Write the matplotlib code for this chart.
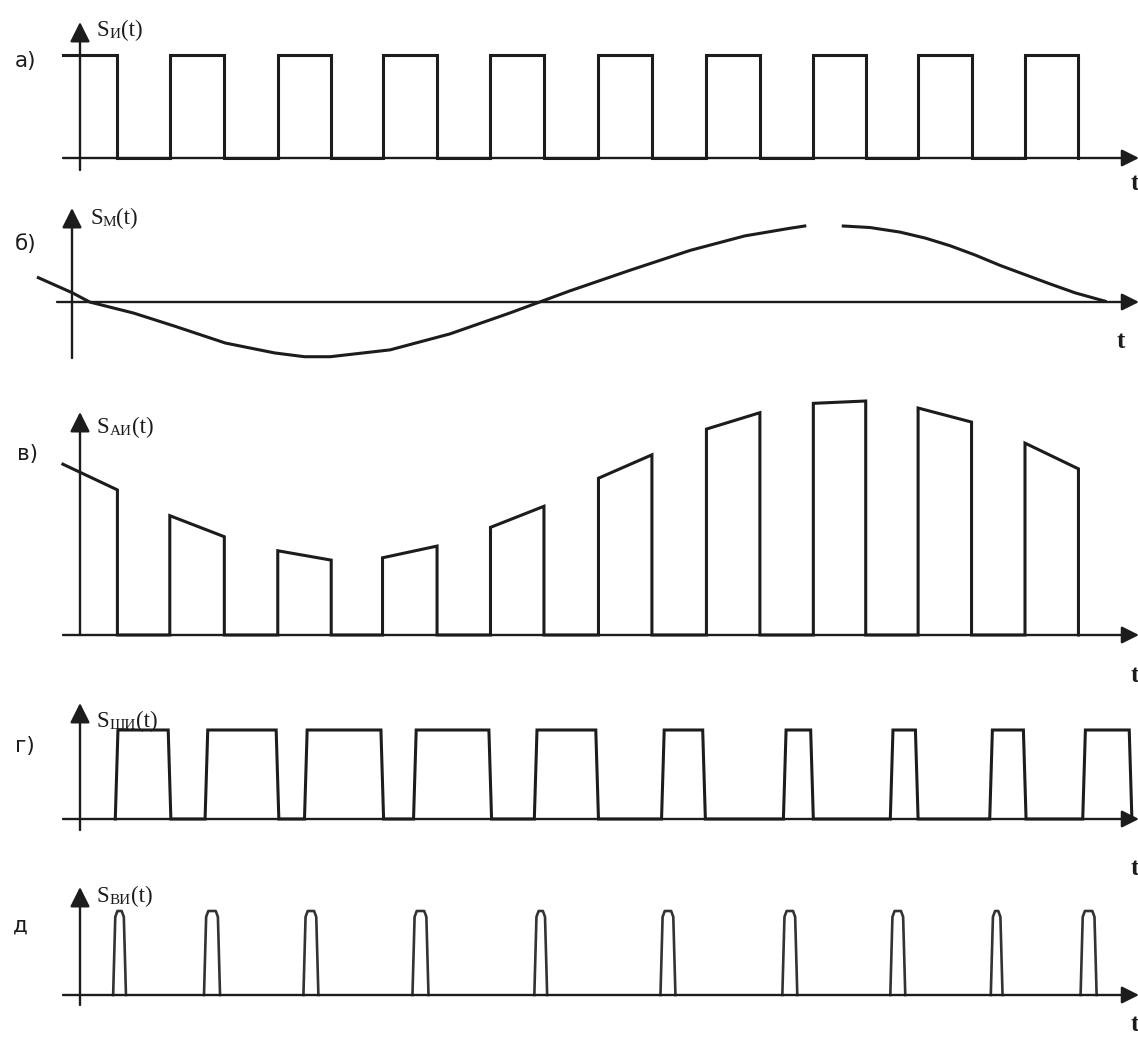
import numpy as np
import matplotlib.pyplot as plt

# ---------------- data (time in carrier periods, t=0 at the vertical axis) ----------------
# а) carrier pulse train, в) amplitude-modulated pulses share these edges
pulse_start = [-0.16, 0.84, 1.85, 2.83, 3.84, 4.85, 5.86, 6.86, 7.84, 8.84]
pulse_end = [0.35, 1.35, 2.35, 3.34, 4.34, 5.35, 6.36, 7.35, 8.34, 9.34]

# б) modulating signal, read point by point (nan = gap in the drawn curve)
sine_t = [-0.39, -0.07, 0.09, 0.50, 0.89, 1.36, 1.82, 2.10, 2.34, 2.90, 3.46,
          4.02, 4.30, 4.58, 5.15, 5.71, 6.22, 6.64, 6.78, np.nan,
          7.14, 7.39, 7.67, 7.91, 8.14, 8.37, 8.61, 8.84, 9.07, 9.31, 9.59]
sine_v = [0.32, 0.12, 0.0, -0.145, -0.32, -0.54, -0.67, -0.72, -0.72, -0.63, -0.42,
          -0.145, 0.0, 0.145, 0.42, 0.68, 0.87, 0.97, 1.0, np.nan,
          1.0, 0.98, 0.92, 0.84, 0.74, 0.62, 0.48, 0.36, 0.24, 0.12, 0.01]

# в) pulse top heights at the leading / trailing edge
am_top_start = [0.73, 0.51, 0.36, 0.33, 0.46, 0.67, 0.88, 0.99, 0.97, 0.82]
am_top_end = [0.62, 0.42, 0.32, 0.38, 0.55, 0.77, 0.95, 1.00, 0.91, 0.71]

# г) pulse-width modulation edges
pwm_rise = [0.33, 1.17, 2.10, 3.12, 4.25, 5.44, 6.58, 7.58, 8.51, 9.38]
pwm_fall = [0.85, 1.86, 2.84, 3.85, 4.85, 5.85, 6.86, 7.84, 8.85, 9.84]

# д) pulse-position modulation
ppm_start = [0.31, 1.16, 2.09, 3.11, 4.25, 5.43, 6.57, 7.58, 8.52, 9.36]
ppm_end = [0.43, 1.31, 2.23, 3.26, 4.37, 5.57, 6.71, 7.72, 8.63, 9.51]

panel_letters = ["а)", "б)", "в)", "г)", "д"]
signal_subs = ["И", "М", "АИ", "ШИ", "ВИ"]

# ---------------- layout ----------------
W, H = 1138, 1038
X0, TPX = 80, 106.9   # pixel of t=0, pixels per carrier period
LC = "#1c1c1c"
LW_AX = 1.7
LW = 2.2

fig = plt.figure(figsize=(W / 100, H / 100), dpi=100)
fig.patch.set_facecolor("white")


def t_of(px):
    return (px - X0) / TPX


def make_panel(top, bottom, base, unit):
    ax = fig.add_axes([0, 1 - bottom / H, 1, (bottom - top) / H])
    ax.set_xlim(t_of(0), t_of(W))
    ax.set_ylim(-(bottom - base) / unit, (base - top) / unit)
    ax.axis("off")
    return ax


def draw_axes(ax, base, unit, vx, v_lo, v_hi, h_lo):
    ap = dict(arrowstyle="-|>", mutation_scale=30, lw=LW_AX, color=LC,
              shrinkA=0, shrinkB=0)
    ax.annotate("", xy=(t_of(vx), (base - v_hi) / unit),
                xytext=(t_of(vx), (base - v_lo) / unit),
                arrowprops=ap, annotation_clip=False)
    ap_h = dict(ap, mutation_scale=26)
    ax.annotate("", xy=(t_of(W + 1), 0), xytext=(t_of(h_lo), 0),
                arrowprops=ap_h, annotation_clip=False)


def sig_label(x_px, base_px, sub):
    s = fig.text(x_px / W, 1 - base_px / H, "S", fontsize=16.5,
                 family="Liberation Serif", va="baseline", color=LC)
    ann = fig.add_artist(plt.Annotation(sub, xy=(1, 0), xycoords=s,
                                        va="bottom", ha="left", fontsize=11,
                                        family="Liberation Serif", color=LC))
    fig.add_artist(plt.Annotation("(t)", xy=(1, 0), xycoords=(ann, s),
                                  va="bottom", ha="left", fontsize=16.5,
                                  family="Liberation Serif", color=LC))


def letter(x_px, base_px, txt):
    fig.text(x_px / W, 1 - base_px / H, txt, fontsize=15.5, family="DejaVu Sans",
             va="baseline", ha="left", color=LC)


def t_label(x_px, top_px):
    fig.text(x_px / W, 1 - top_px / H, "t", fontsize=18, fontweight="bold",
             family="Liberation Serif", va="top", ha="left", color=LC)


# ---------------- а) carrier ----------------
ax = make_panel(0, 200, 158, 103)
draw_axes(ax, 158, 103, 80, 170, 22, 63)
xs, ys = [], []
for k, (s, e) in enumerate(zip(pulse_start, pulse_end)):
    if k == 0:
        xs += [s, e, e]
        ys += [1, 1, 0]
    else:
        xs += [s, s, e, e]
        ys += [0, 1, 1, 0]
ax.plot(xs, ys, color=LC, lw=LW, solid_joinstyle="miter")
letter(15, 67, panel_letters[0])
sig_label(97, 36, signal_subs[0])
t_label(1131, 172)

# ---------------- б) modulating signal ----------------
ax = make_panel(200, 390, 302, 76)
draw_axes(ax, 302, 76, 72, 358, 208, 57)
ax.plot(sine_t, sine_v, color=LC, lw=LW, solid_joinstyle="round")
letter(15, 250, panel_letters[1])
sig_label(90, 224, signal_subs[1])
t_label(1117, 330)

# ---------------- в) PAM ----------------
ax = make_panel(390, 690, 635, 234)
draw_axes(ax, 635, 234, 80, 635, 412, 63)
xs, ys = [], []
for k, (s, e) in enumerate(zip(pulse_start, pulse_end)):
    if k == 0:
        xs += [s, e, e]
        ys += [am_top_start[k], am_top_end[k], 0]
    else:
        xs += [s, s, e, e]
        ys += [0, am_top_start[k], am_top_end[k], 0]
ax.plot(xs, ys, color=LC, lw=LW, solid_joinstyle="miter")
letter(17, 460, panel_letters[2])
sig_label(97, 433, signal_subs[2])
t_label(1131, 664)

# ---------------- г) PWM ----------------
ax = make_panel(690, 880, 819, 89)
draw_axes(ax, 819, 89, 80, 830, 703, 63)
edge = 0.025
xs, ys = [], []
for r, f in zip(pwm_rise, pwm_fall):
    xs += [r, r + edge, f - edge, f]
    ys += [0, 1, 1, 0]
ax.plot(xs, ys, color=LC, lw=LW, solid_joinstyle="miter")
letter(15, 752, panel_letters[3])
sig_label(97, 727, signal_subs[3])
t_label(1131, 857)

# ---------------- д) PPM ----------------
ax = make_panel(880, 1038, 995, 84)
draw_axes(ax, 995, 84, 80, 1005, 887, 63)
for s, e in zip(ppm_start, ppm_end):
    ax.plot([s, s + 0.02, s + 0.04, e - 0.04, e - 0.02, e],
            [0, 0.93, 1, 1, 0.93, 0], color="#333333", lw=1.9,
            solid_joinstyle="round")
letter(13, 932, panel_letters[4])
sig_label(97, 902, signal_subs[4])
t_label(1131, 1013)

fig.savefig("out.png", dpi=100, facecolor="white")
